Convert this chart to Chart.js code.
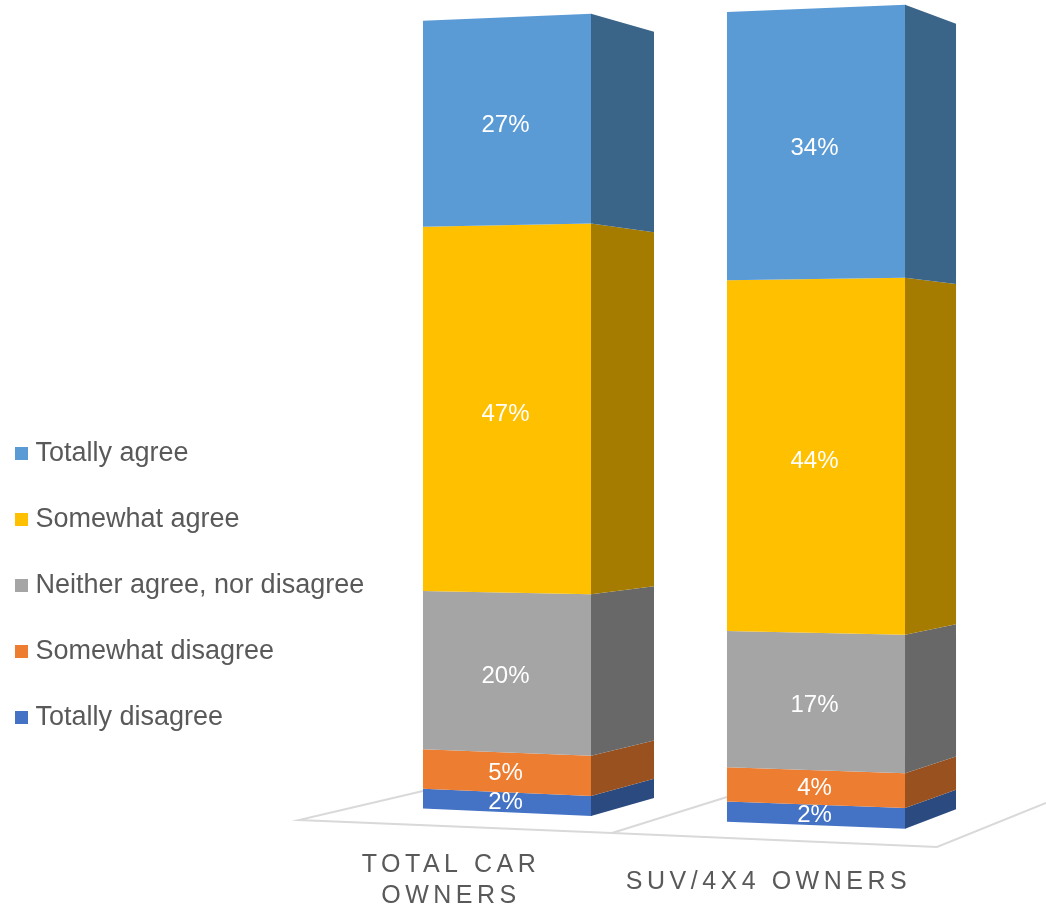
<!DOCTYPE html>
<html>
<head>
<meta charset="utf-8">
<title>Car owners</title>
<script src="https://cdn.jsdelivr.net/npm/chart.js@4/dist/chart.umd.min.js"></script>
<style>
  html, body { margin: 0; padding: 0; background: #fff; }
  canvas { display: block; }
</style>
</head>
<body>
<canvas id="chart" width="1046" height="905"></canvas>
<script>
const categories = [["TOTAL CAR", "OWNERS"], ["SUV/4X4 OWNERS"]];

// bottom of the stack first
const seriesNames = ["Totally disagree", "Somewhat disagree", "Neither agree, nor disagree", "Somewhat agree", "Totally agree"];
const totallyDisagree = [2.49, 2.49];
const somewhatDisagree = [5.0, 4.2];
const neither = [20.1, 16.8];
const somewhatAgree = [46.5, 43.5];
const totallyAgree = [26.5, 33.5];
const seriesValues = [totallyDisagree, somewhatDisagree, neither, somewhatAgree, totallyAgree];

const frontColors = ["#4472C4", "#ED7D31", "#A5A5A5", "#FFC000", "#5B9BD5"];
const sideColors = ["#2A4A80", "#9A5120", "#686868", "#A67C00", "#3A6488"];
const labelNudge = [0.5, 1, 3.5, 6, 4.5];

// fake 3D camera: how each bar is skewed away from its flat Chart.js rectangle
const views = [
  { widthScale: 0.971, depth: 63, left: [-6.5, 10.7], mid: [1, 3.7], right: [-17, 21.7], labelDx: -56, labelY: [872, 903] },
  { widthScale: 1.029, depth: 51, left: [6.7, 1.2], mid: [13.7, -6.1], right: [-5.7, 12.9], labelDx: -47.5, labelY: [889] },
];
const foreshorten = 0.01;
// floor outline, relative to the first bar centre on the zero line
const floorLines = [
  [[-84, -24], [-208, 5], [105, 18], [430, 32], [539, -12]],
  [[105, 18], [220, -18]],
];

function project(chart, catIndex, edge, yPixel) {
  const area = chart.chartArea;
  const t = (area.bottom - yPixel) / (area.bottom - area.top);
  const tp = (1 + foreshorten) * t / (1 + foreshorten * t);
  const [dBottom, dTop] = views[catIndex][edge];
  const bottom = area.bottom + dBottom;
  const top = area.top + dTop;
  return bottom + (top - bottom) * tp;
}

function poly(ctx, pts, color) {
  ctx.beginPath();
  pts.forEach((p, i) => (i ? ctx.lineTo(p[0], p[1]) : ctx.moveTo(p[0], p[1])));
  ctx.closePath();
  ctx.fillStyle = color;
  ctx.fill();
}

const bars3d = {
  id: "bars3d",
  beforeLayout(chart) {
    // legend sits over the left margin, it must not push the plot area
    const legend = chart.legend;
    if (!legend.zeroWidth) {
      const fit = legend.fit;
      legend.fit = function () {
        fit.call(this);
        this.width = 0;
      };
      legend.zeroWidth = true;
    }
  },
  afterLayout(chart) {
    const pad = chart.options.plugins.legend.labels.padding;
    chart.legend.left = 21 - pad;
    chart.legend.right = 400;
    chart.legend.top = 440 - pad;
    chart.legend.bottom = 890;
  },
  beforeDatasetsDraw(chart) {
    const ctx = chart.ctx;
    const xScale = chart.scales.x;
    const yScale = chart.scales.y;
    const x0 = xScale.getPixelForValue(0);
    const y0 = yScale.getPixelForValue(0);

    ctx.save();
    ctx.strokeStyle = "#D9D9D9";
    ctx.lineWidth = 2;
    floorLines.forEach((line) => {
      ctx.beginPath();
      line.forEach((p, i) => (i ? ctx.lineTo(x0 + p[0], y0 + p[1]) : ctx.moveTo(x0 + p[0], y0 + p[1])));
      ctx.stroke();
    });

    seriesValues.forEach((values, s) => {
      chart.getDatasetMeta(s).data.forEach((bar, c) => {
        const v = views[c];
        const half = bar.width * v.widthScale / 2;
        const xl = bar.x - half, xm = bar.x + half, xr = xm + v.depth;
        const top = bar.y, base = bar.base;
        poly(ctx, [[xl, project(chart, c, "left", top)], [xm + 0.5, project(chart, c, "mid", top)],
          [xm + 0.5, project(chart, c, "mid", base)], [xl, project(chart, c, "left", base)]], frontColors[s]);
        poly(ctx, [[xm, project(chart, c, "mid", top)], [xr, project(chart, c, "right", top)],
          [xr, project(chart, c, "right", base)], [xm, project(chart, c, "mid", base)]], sideColors[s]);
      });
    });

    // value labels on the front faces
    ctx.font = "24px 'Liberation Sans'";
    ctx.fillStyle = "#FFFFFF";
    ctx.textAlign = "center";
    ctx.textBaseline = "middle";
    seriesValues.forEach((values, s) => {
      chart.getDatasetMeta(s).data.forEach((bar, c) => {
        const mid = (bar.y + bar.base) / 2;
        const y = (project(chart, c, "left", mid) + project(chart, c, "mid", mid)) / 2;
        ctx.fillText(Math.round(values[c]) + "%", bar.x - 1.5, y + labelNudge[s]);
      });
    });

    // category labels follow the floor, not the bar centres
    ctx.font = "25px 'Liberation Sans'";
    ctx.fillStyle = "#595959";
    ctx.textBaseline = "alphabetic";
    ctx.letterSpacing = "4.5px";
    categories.forEach((lines, c) => {
      const x = xScale.getPixelForValue(c) + views[c].labelDx;
      lines.forEach((text, i) => ctx.fillText(text, x, views[c].labelY[i]));
    });
    ctx.letterSpacing = "0px";
    ctx.restore();
    return false;
  },
};

new Chart(document.getElementById("chart"), {
  type: "bar",
  data: {
    labels: categories,
    datasets: seriesNames.map((name, s) => ({
      label: name,
      data: seriesValues[s],
      backgroundColor: frontColors[s],
      categoryPercentage: 1,
      barPercentage: 0.56,
    })),
  },
  options: {
    responsive: false,
    animation: false,
    layout: { padding: { left: 352.5, right: 75.5, top: 10, bottom: 90 } },
    plugins: {
      tooltip: { enabled: false },
      legend: {
        position: "left",
        align: "start",
        reverse: true,
        labels: {
          boxWidth: 1,
          boxHeight: 1,
          padding: 39,
          color: "#595959",
          font: { family: "'Liberation Sans'", size: 27 },
          generateLabels: (chart) =>
            chart.data.datasets.map((d, i) => ({
              text: d.label,
              fillStyle: frontColors[i],
              strokeStyle: frontColors[i],
              fontColor: "#595959",
              lineWidth: 12,
              lineJoin: "miter",
              datasetIndex: i,
            })),
        },
      },
    },
    scales: {
      x: { stacked: true, display: false },
      y: { stacked: true, display: false, min: 0, max: 100.6 },
    },
  },
  plugins: [bars3d],
});
</script>
</body>
</html>
